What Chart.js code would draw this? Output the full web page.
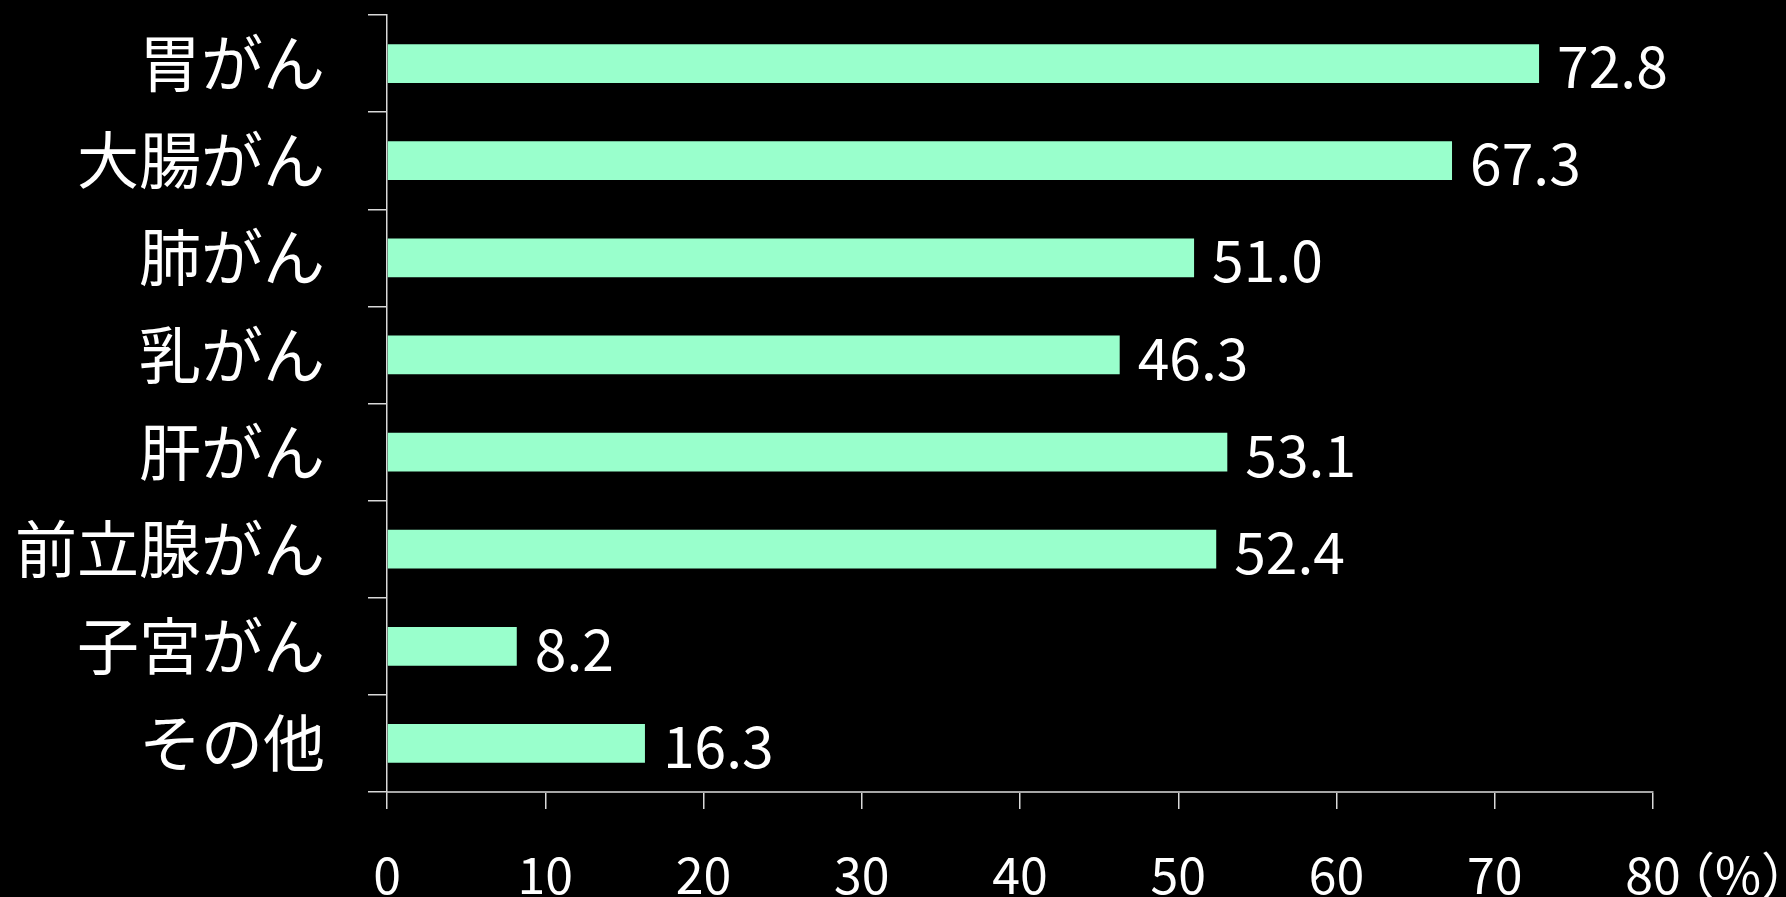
<!DOCTYPE html>
<html>
<head>
<meta charset="utf-8">
<script src="https://cdn.jsdelivr.net/npm/chart.js@4"></script>
<style>
    html, body { margin: 0; padding: 0; background: #000000; }
    #wrap { width: 1786px; height: 897px; }
</style>
</head>
<body>
<div id="wrap"><canvas id="chart" width="1786" height="897"></canvas></div>
<script>
// Cancer types (top to bottom) and their values in %
var categories = ['胃がん', '大腸がん', '肺がん', '乳がん', '肝がん', '前立腺がん', '子宮がん', 'その他'];
var values = [72.8, 67.3, 51.0, 46.3, 53.1, 52.4, 8.2, 16.3];
var xTicks = [0, 10, 20, 30, 40, 50, 60, 70, 80];
var unitLabel = '（%）';

var jpFont = '"Noto Sans CJK JP", "Noto Sans", sans-serif';

// Draws the value next to each bar and the unit after the last x tick
var valueLabels = {
    id: 'valueLabels',
    afterDatasetsDraw: function (chart) {
        var ctx = chart.ctx;
        var meta = chart.getDatasetMeta(0);
        ctx.save();
        ctx.fillStyle = '#ffffff';
        ctx.font = '57px ' + jpFont;
        ctx.textAlign = 'left';
        ctx.textBaseline = 'middle';
        meta.data.forEach(function (bar, i) {
            ctx.fillText(values[i].toFixed(1), bar.x + 18, bar.y + 3);
        });
        // unit label after "80"
        var xs = chart.scales.x;
        ctx.font = '50px ' + jpFont;
        ctx.fillText(unitLabel, xs.getPixelForValue(80) + 12, 875);
        ctx.restore();
    }
};

var chartCanvas = document.getElementById('chart').getContext('2d');

new Chart(chartCanvas, {
    type: 'bar',
    data: {
        labels: categories,
        datasets: [{
            data: values,
            backgroundColor: '#99ffcc',
            borderWidth: 0,
            categoryPercentage: 1.0,
            barPercentage: 0.4
        }]
    },
    options: {
        indexAxis: 'y',
        responsive: false,
        animation: false,
        layout: { padding: { top: 15, right: 133, left: 0, bottom: 0 } },
        plugins: {
            legend: { display: false },
            tooltip: { enabled: false }
        },
        scales: {
            x: {
                min: 0,
                max: 80,
                afterBuildTicks: function (scale) {
                    scale.ticks = xTicks.map(function (v) { return { value: v }; });
                },
                afterFit: function (scale) {
                    scale.height = 105;
                    scale.paddingLeft = 0;
                    scale.paddingRight = 0;
                },
                border: { color: '#a6a6a6', width: 2 },
                grid: { drawOnChartArea: false, tickLength: 17, color: '#d9d9d9', lineWidth: 1.5 },
                ticks: {
                    color: '#ffffff',
                    font: { family: jpFont, size: 50 },
                    padding: 36,
                    maxRotation: 0
                }
            },
            y: {
                afterFit: function (scale) {
                    scale.width = 387;
                    scale.paddingTop = 0;
                    scale.paddingBottom = 0;
                },
                border: { color: '#d9d9d9', width: 1.5 },
                grid: { offset: true, drawOnChartArea: false, tickLength: 19, color: '#d9d9d9', lineWidth: 1.5 },
                ticks: {
                    color: '#ffffff',
                    font: { family: jpFont, size: 62 },
                    padding: 43
                }
            }
        }
    },
    plugins: [valueLabels]
});
</script>
</body>
</html>
